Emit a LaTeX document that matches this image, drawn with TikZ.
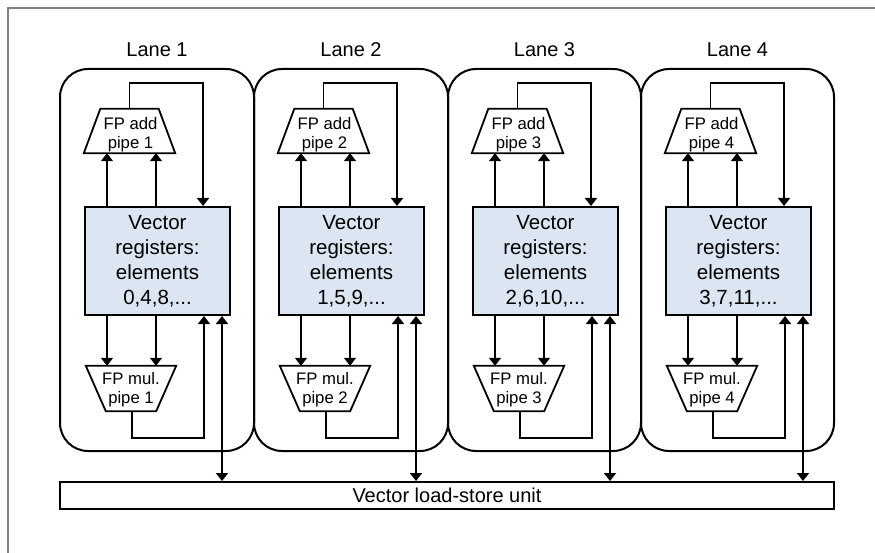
\documentclass[tikz,border=0pt]{standalone}
\usepackage{fontspec}
\setmainfont{Liberation Sans}
\usetikzlibrary{arrows.meta,calc}
\definecolor{regfill}{RGB}{220,230,242}
\definecolor{framegray}{RGB}{128,128,128}
\tikzset{
  lanebox/.style={draw, line width=2pt, rounded corners=28pt},
  regbox/.style={draw, line width=2pt, fill=regfill, minimum width=145pt,
    minimum height=108pt, inner sep=0pt, align=center,
    font=\fontsize{20.5}{25}\selectfont},
  pipearea/.style={inner sep=0pt},
  pipetext/.style={inner sep=0pt, align=center, font=\fontsize{16.7}{19}\selectfont},
  pipeline/.style={line width=1.8pt, line join=miter},
  wire/.style={line width=1.8pt},
  tip/.style={-{Triangle[width=12pt,length=8pt]}},
  lanelabel/.style={font=\fontsize{20}{24}\selectfont},
  barbox/.style={draw, line width=2pt, minimum width=774pt, minimum height=27pt,
    inner sep=0pt, font=\fontsize{20}{24}\selectfont}
}
\begin{document}
\begin{tikzpicture}[x=1pt, y=-1pt]
  \useasboundingbox (0,0) rectangle (875,553);
  % page frame (top and left edges only)
  \draw[framegray, line width=1.4pt] (8,553) -- (8,8) -- (875,8);

  % shared load-store unit
  \node[barbox] (bar) at (447,495.5) {Vector load-store unit};

  % lane index / left edge / right edge / register elements
  \foreach \i/\L/\R/\elems in {1/60/254/{0,4,8,...}, 2/254/448/{1,5,9,...},
                               3/448/641/{2,6,10,...}, 4/641/834/{3,7,11,...}} {
    % lane outline and title
    \draw[lanebox] (\L,69) rectangle (\R,451);
    \node[lanelabel] (lab\i) at ({(\L+\R)/2},50) {Lane \i};

    % register file
    \node[regbox] (reg\i) at (\L+97.5,261) {Vector\\registers:\\elements\\\elems};

    % FP add pipe (trapezium, narrow side up)
    \node[pipearea, minimum width=91pt, minimum height=44pt] (add\i) at (\L+69.5,131) {};
    \draw[pipeline] (add\i.south west) -- (add\i.south east)
      -- ([xshift=-16.5pt]add\i.north east) -- ([xshift=16.5pt]add\i.north west) -- cycle;
    \node[pipetext] (addtxt\i) at ([xshift=1pt,yshift=-4pt]add\i.center) {FP add\\pipe \i};

    % FP mul pipe (trapezium, narrow side down)
    \node[pipearea, minimum width=90pt, minimum height=45pt] (mul\i) at (\L+71,388.5) {};
    \draw[pipeline] (mul\i.north west) -- (mul\i.north east)
      -- ([xshift=-20pt]mul\i.south east) -- ([xshift=20pt]mul\i.south west) -- cycle;
    \node[pipetext] (multxt\i) at ([yshift=-1pt]mul\i.center) {FP mul.\\pipe \i};

    % operand columns and return-path corners
    \coordinate (opA\i) at (\L+47,0);
    \coordinate (opB\i) at (\L+96,0);
    \coordinate (addRet\i) at (\L+143,83);
    \coordinate (mulRet\i) at (\L+144,438);
    \coordinate (ls\i) at (\L+162,0);

    % operands to the add pipe
    \draw[wire, tip] (reg\i.north -| opA\i) -- (add\i.south -| opA\i);
    \draw[wire, tip] (reg\i.north -| opB\i) -- (add\i.south -| opB\i);
    % add result back to registers
    \draw[wire, tip] (add\i.north) |- (addRet\i) -- (reg\i.north -| addRet\i);

    % operands to the mul pipe
    \draw[wire, tip] (reg\i.south -| opA\i) -- (mul\i.north -| opA\i);
    \draw[wire, tip] (reg\i.south -| opB\i) -- (mul\i.north -| opB\i);
    % mul result back to registers
    \draw[wire, tip] ([xshift=1pt]mul\i.south) |- (mulRet\i) -- (reg\i.south -| mulRet\i);

    % load-store path
    \draw[wire, {Triangle[width=12pt,length=8pt]}-{Triangle[width=12pt,length=8pt]}]
      (reg\i.south -| ls\i) -- (bar.north -| ls\i);
  }
\end{tikzpicture}
\end{document}
